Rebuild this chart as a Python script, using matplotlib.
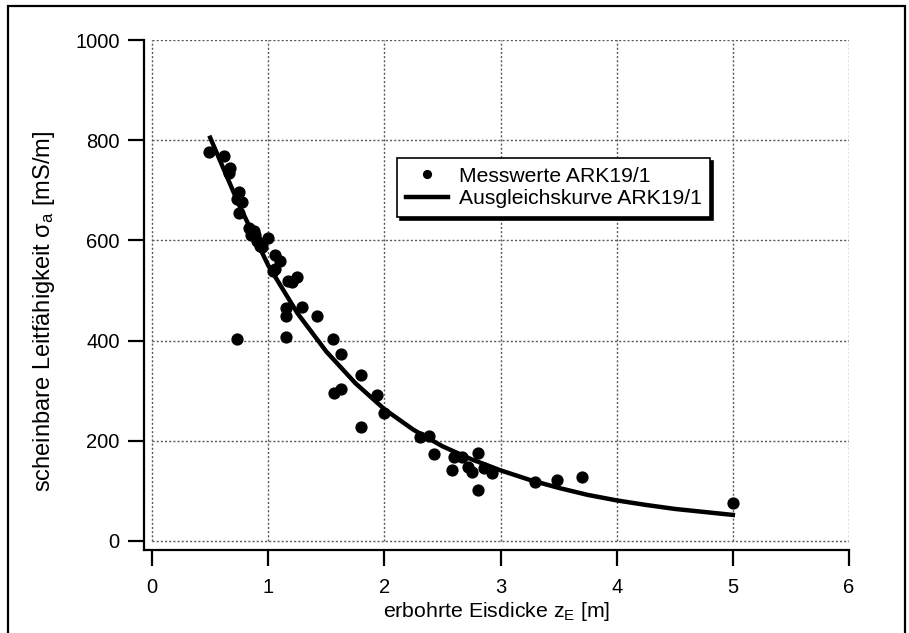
import numpy as np
import matplotlib
matplotlib.use("Agg")
import matplotlib.pyplot as plt
from matplotlib.patches import Rectangle

plt.rcParams['font.family'] = ['Liberation Sans', 'DejaVu Sans']
plt.rcParams['mathtext.fontset'] = 'custom'
plt.rcParams['mathtext.rm'] = 'Liberation Sans'
plt.rcParams['mathtext.it'] = 'Liberation Sans:italic'

# measured values ARK19/1 (ice thickness [m], apparent conductivity [mS/m])
mess_z = [0.49, 0.62, 0.67, 0.66, 0.75, 0.73, 0.77, 0.75, 0.83, 0.88, 0.85, 0.89,
          0.90, 0.93, 1.00, 0.95, 1.06, 1.10, 1.06, 1.04, 1.17, 1.20, 1.25, 1.15,
          1.15, 1.29, 1.42, 1.15, 0.73, 1.56, 1.63, 1.80, 1.57, 1.63, 1.94, 2.00,
          1.80, 2.31, 2.38, 2.43, 2.58, 2.60, 2.67, 2.72, 2.75, 2.81, 2.81, 2.86,
          2.93, 3.30, 3.49, 3.70, 5.00]
mess_sigma = [776, 768, 744, 734, 696, 682, 676, 654, 624, 618, 610, 610,
              598, 588, 604, 586, 570, 558, 542, 538, 518, 516, 526, 466,
              450, 468, 450, 408, 404, 404, 374, 332, 296, 304, 292, 256,
              228, 208, 210, 174, 142, 168, 168, 148, 138, 176, 102, 146,
              136, 118, 121, 128, 75]

# fitted curve ARK19/1
fit_z = [0.5, 0.75, 1.0, 1.25, 1.5, 1.75, 2.0, 2.25, 2.5, 2.75, 3.0, 3.25,
         3.5, 3.75, 4.0, 4.25, 4.5, 4.75, 5.0]
fit_sigma = [805, 670, 550, 455, 378, 315, 263, 222, 189, 163, 141, 122,
             106, 92, 81, 72, 64, 58, 52]

xticks = [0, 1, 2, 3, 4, 5, 6]
yticks = [0, 200, 400, 600, 800, 1000]

W, H = 909, 633
fig = plt.figure(figsize=(W / 100, H / 100), dpi=100)
ax = fig.add_axes([144 / W, 1 - 550 / H, (849 - 144) / W, (550 - 40) / H])

# grid only inside the data range
ax.hlines(yticks, 0, 6, colors='0.35', linestyles=(0, (1.5, 1.5)), lw=1, zorder=0)
ax.vlines(xticks, 0, 1000, colors='0.35', linestyles=(0, (1.5, 1.5)), lw=1, zorder=0)

ax.plot(mess_z, mess_sigma, 'o', color='black', ms=7.8, mec='black',
        label='Messwerte ARK19/1', zorder=3)
ax.plot(fit_z, fit_sigma, '-', color='black', lw=3.2, label='Ausgleichskurve ARK19/1',
        zorder=2)

ax.set_xlim(-0.07, 6)
ax.set_ylim(-18, 1000)
ax.set_xticks(xticks)
ax.set_yticks(yticks)
ax.spines['top'].set_visible(False)
ax.spines['right'].set_visible(False)
ax.spines['left'].set_linewidth(1.6)
ax.spines['bottom'].set_linewidth(1.6)
ax.tick_params(direction='out', length=11.5, width=1.6, labelsize=14.5, pad=6)
ax.tick_params(axis='x', pad=8.5)

ax.set_xlabel('erbohrte Eisdicke z$_\\mathrm{E}$ [m]', fontsize=15.3, labelpad=2)
ax.set_ylabel('scheinbare Leitfähigkeit σ$_\\mathrm{a}$ [mS/m]', fontsize=17)
ax.yaxis.set_label_coords(-0.124, 0.467)

leg = ax.legend(loc='upper left', bbox_to_anchor=(397 / W, 1 - 158 / H),
                bbox_transform=fig.transFigure, borderaxespad=0, fontsize=15.2,
                fancybox=False, shadow={'color': 'black', 'alpha': 1},
                edgecolor='black', framealpha=1, handlelength=2.0,
                borderpad=0.42, labelspacing=0.15, handletextpad=0.5, markerscale=0.72)
leg.get_frame().set_linewidth(1.2)

# frame around the whole picture
fig.add_artist(Rectangle((8 / W, -0.01), (905 - 8) / W, 1.01 - 6 / H,
                         transform=fig.transFigure, fill=False, lw=1.6,
                         edgecolor='black'))

fig.savefig('out.png', dpi=100)
